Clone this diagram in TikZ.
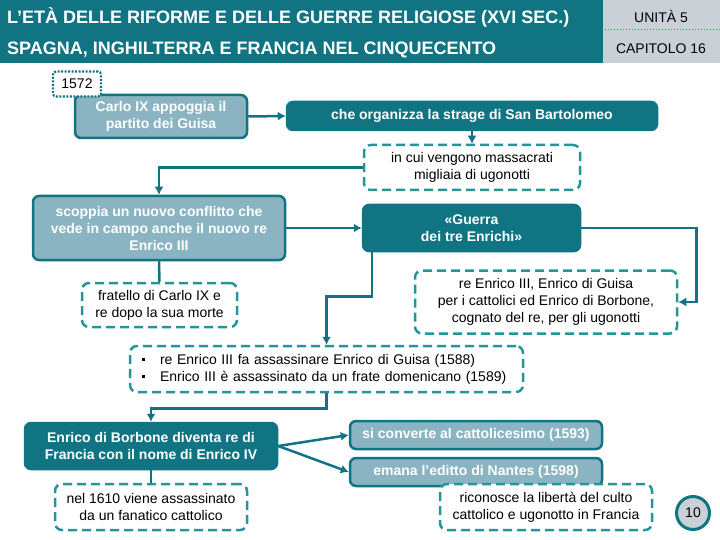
\documentclass[tikz,border=0pt]{standalone}
\usepackage{fontspec}
\setmainfont{Liberation Sans}
\usetikzlibrary{arrows.meta}
\definecolor{dkteal}{RGB}{16,116,130}
\definecolor{ltteal}{RGB}{138,180,193}
\definecolor{dshteal}{RGB}{34,150,152}
\definecolor{hdgrey}{RGB}{201,209,214}
\definecolor{dotred}{RGB}{170,80,60}
\newcommand{\txt}{\fontsize{14}{17}\selectfont}
\newcommand{\pallino}{\rule[3pt]{3pt}{3pt}\hspace{15pt}}

\begin{document}
\begin{tikzpicture}[x=1pt,y=-1pt]
			\tikzstyle{every node}+=[inner sep=0pt, font=\txt]
			\tikzstyle{darkbox}=[draw=dkteal, fill=dkteal, line width=2.5pt, rounded corners=6pt, text=white, align=center, font=\txt\bfseries]
			\tikzstyle{lightbox}=[draw=dkteal, fill=ltteal, line width=2.5pt, rounded corners=6pt, text=white, align=center, font=\txt\bfseries]
			\tikzstyle{dashbox}=[draw=dshteal, fill=white, line width=2.5pt, dash pattern=on 9pt off 5pt, rounded corners=7pt, align=center]
			\tikzstyle{arr}=[draw=dkteal, line width=2.5pt, -{Latex[length=8pt,width=9pt]}]
			\tikzstyle{lnk}=[draw=dkteal, line width=2.5pt]
			\useasboundingbox (0,0) rectangle (720,540);
			\fill[white] (0,0) rectangle (720,540);
			\fill[dkteal] (0,0) rectangle (603,63);
			\fill[hdgrey] (603,0) rectangle (720,63);
			\draw[dotred, dotted, line width=1pt] (605,30) -- (720,30);
			\node[anchor=base west, text=white, font=\fontsize{18}{20}\selectfont\bfseries] (titolo) at (7,23.5) {L’ETÀ DELLE RIFORME E DELLE GUERRE RELIGIOSE (XVI SEC.)};
			\node[anchor=base west, text=white, font=\fontsize{18}{20}\selectfont\bfseries] (sottotitolo) at (7,54.5) {SPAGNA, INGHILTERRA E FRANCIA NEL CINQUECENTO};
			\node[anchor=base] (unita) at (661,23) {UNITÀ 5};
			\node[anchor=base] (capitolo) at (661,54) {CAPITOLO 16};
			\node[lightbox, minimum width=172, minimum height=43] (carlo) at (161,116.5) {Carlo IX appoggia il\\partito dei Guisa};
			\node[draw=dkteal, fill=white, line width=2.2pt, dash pattern=on 2pt off 1.5pt, rounded corners=3pt, minimum width=48, minimum height=25] (anno) at (77,84) {1572};
			\node[darkbox, minimum width=370, minimum height=28] (strage) at (472,116) {che organizza la strage di San Bartolomeo};
			\node[dashbox, minimum width=216, minimum height=45] (massacri) at (472,167.5) {in cui vengono massacrati\\migliaia di ugonotti};
			\node[lightbox, minimum width=252, minimum height=64] (conflitto) at (159,228) {scoppia un nuovo conflitto che\\vede in campo anche il nuovo re\\Enrico III};
			\node[darkbox, minimum width=217, minimum height=46] (enrichi) at (471.5,228) {«Guerra\\dei tre Enrichi»};
			\node[dashbox, minimum width=155, minimum height=44] (fratello) at (159.5,305) {fratello di Carlo IX e\\re dopo la sua morte};
			\node[dashbox, minimum width=262, minimum height=63] (tre) at (546,302) {re Enrico III, Enrico di Guisa\\per i cattolici ed Enrico di Borbone,\\cognato del re, per gli ugonotti};
			\node[dashbox, minimum width=393, minimum height=46, text width=369, align=left] (assassinii) at (326.5,369) {\pallino re Enrico III fa assassinare Enrico di Guisa (1588)\\\pallino Enrico III è assassinato da un frate domenicano (1589)};
			\node[darkbox, minimum width=252, minimum height=46] (borbone) at (151,446) {Enrico di Borbone diventa re di\\Francia con il nome di Enrico IV};
			\node[lightbox, minimum width=252, minimum height=28] (converte) at (476,435) {si converte al cattolicesimo (1593)};
			\node[lightbox, minimum width=252, minimum height=28] (nantes) at (476,472) {emana l’editto di Nantes (1598)};
			\node[dashbox, minimum width=192, minimum height=46] (morte) at (151,507) {nel 1610 viene assassinato\\da un fanatico cattolico};
			\node[dashbox, minimum width=212, minimum height=46] (culto) at (546,507) {riconosce la libertà del culto\\cattolico e ugonotto in Francia};
			\node[circle, draw=dkteal, fill=hdgrey, line width=3pt, minimum size=33] (pagina) at (693,513) {10};
			\draw[arr] (carlo.east) -- (strage.west);
			\draw[arr] (strage.south) -- (massacri.north);
			\draw[arr] (massacri.west) -| (conflitto.north);
			\draw[arr] (conflitto.east) -- (enrichi.west);
			\draw[lnk] (conflitto.south) -- (fratello.north);
			\draw[arr] (enrichi.east) -- ++(115,0) |- (tre.east);
			\draw[arr] ([xshift=10pt]enrichi.south west) -- ++(0,44) -| (assassinii.north);
			\draw[arr] (assassinii.south) -- ++(0,15) -| (borbone.north);
			\draw[arr] (borbone.east) -- (converte.west);
			\draw[arr] (borbone.east) -- (nantes.west);
			\draw[lnk] (borbone.south) -- (morte.north);
		\end{tikzpicture}
\end{document}
